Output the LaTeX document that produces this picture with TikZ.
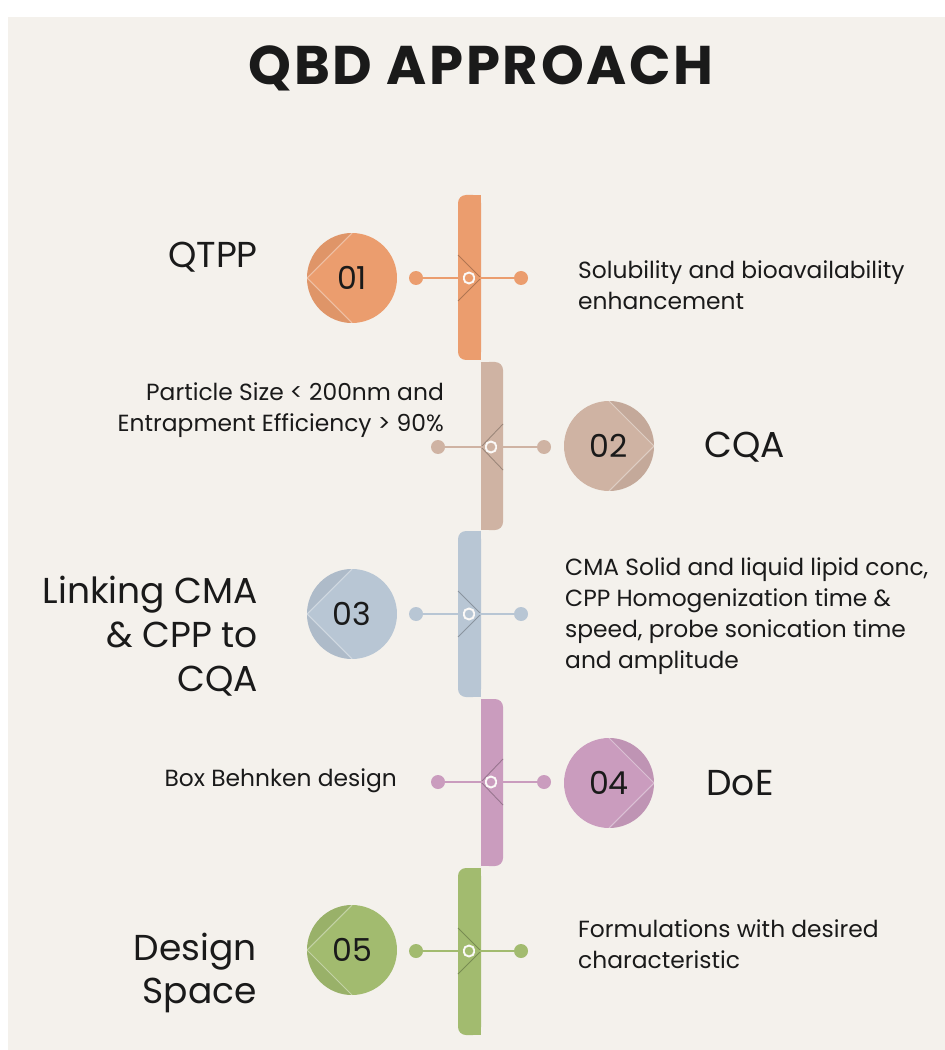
\documentclass[tikz,border=0pt]{standalone}
\usepackage{fontspec}
\setmainfont{Poppins}
\usetikzlibrary{positioning}

\definecolor{paper}{HTML}{F4F1EC}
\definecolor{inkc}{HTML}{1A1A1A}
\definecolor{qorange}{HTML}{EB9D6E}
\definecolor{qtan}{HTML}{CFB3A3}
\definecolor{qblue}{HTML}{B8C6D4}
\definecolor{qpink}{HTML}{CA9CBE}
\definecolor{qgreen}{HTML}{A2BB6F}

\tikzset{
  numL/.style={circle, fill=#1, minimum size=1.8cm, inner sep=0pt, text=inkc,
    font=\fontsize{18}{20}\selectfont,
    path picture={
      \fill[#1!80!black, opacity=.25] (path picture bounding box.north) -- (path picture bounding box.west)
        -- (path picture bounding box.south) -- (path picture bounding box.south west)
        -- (path picture bounding box.north west) -- cycle;
      \draw[white, opacity=.4, line width=0.6pt] (path picture bounding box.north)
        -- (path picture bounding box.west) -- (path picture bounding box.south);
    }},
  numR/.style={circle, fill=#1, minimum size=1.8cm, inner sep=0pt, text=inkc,
    font=\fontsize{18}{20}\selectfont,
    path picture={
      \fill[#1!80!black, opacity=.25] (path picture bounding box.north) -- (path picture bounding box.east)
        -- (path picture bounding box.south) -- (path picture bounding box.south east)
        -- (path picture bounding box.north east) -- cycle;
      \draw[white, opacity=.4, line width=0.6pt] (path picture bounding box.north)
        -- (path picture bounding box.east) -- (path picture bounding box.south);
    }},
  dot/.style={circle, fill=#1, minimum size=0.28cm, inner sep=0pt},
  ring/.style={circle, fill=#1, draw=paper!40!white, line width=1.1pt, minimum size=0.22cm, inner sep=0pt},
  link/.style={draw=#1, line width=0.9pt},
  chev/.style={draw=#1!75!black, line width=0.5pt},
  big/.style={text=inkc, font=\fontsize{20.5}{25}\selectfont, align=right},
  note/.style={text=inkc, font=\fontsize{13.3}{17.6}\selectfont},
}

\begin{document}
\begin{tikzpicture}[x=0.02cm, y=-0.02cm]
% page
\fill[white] (0,0) rectangle (945,1050);
\fill[paper] (8,17) rectangle (945,1050);
\node[text=inkc, font=\fontsize{31}{36}\selectfont\bfseries\addfontfeatures{LetterSpace=5}] (title) at (481,68) {QBD APPROACH};

% stepped spine
\fill[qorange, rounded corners=0.16cm] (458,195) rectangle (481,360);
\fill[qorange] (470,195) rectangle (481,360);
\fill[qtan, rounded corners=0.16cm] (481,362) rectangle (503,530);
\fill[qtan] (481,362) rectangle (492,530);
\fill[qblue, rounded corners=0.16cm] (458,531) rectangle (481,697);
\fill[qblue] (470,531) rectangle (481,697);
\fill[qpink, rounded corners=0.16cm] (481,699) rectangle (503,866);
\fill[qpink] (481,699) rectangle (492,866);
\fill[qgreen, rounded corners=0.16cm] (458,868) rectangle (481,1035);
\fill[qgreen] (470,868) rectangle (481,1035);

\draw[chev=qorange] (458,255) -- (481,278) -- (458,301);
\draw[chev=qtan] (503,424) -- (481,447) -- (503,470);
\draw[chev=qblue] (458,591) -- (481,614) -- (458,637);
\draw[chev=qpink] (503,759) -- (481,782) -- (503,805);
\draw[chev=qgreen] (458,928) -- (481,951) -- (458,974);

% step 01
\node[numL=qorange] (n1) at (352,278) {01};
\node[dot=qorange] (d1a) at (416,278) {};
\node[ring=qorange] (r1) at (469,278) {};
\node[dot=qorange] (d1b) at (521,278) {};
\draw[link=qorange] (d1a) -- (r1);
\draw[link=qorange] (r1) -- (d1b);
\node[big] (t1) at (213,257) {QTPP};
\node[note, anchor=west, align=left] (s1) at (572,285) {Solubility and bioavailability\\enhancement};

% step 02
\node[numR=qtan] (n2) at (609,446) {02};
\node[dot=qtan] (d2a) at (438,447) {};
\node[ring=qtan] (r2) at (491,447) {};
\node[dot=qtan] (d2b) at (544,447) {};
\draw[link=qtan] (d2a) -- (r2);
\draw[link=qtan] (r2) -- (d2b);
\node[big] (t2) at (745,447) {CQA};
\node[note, anchor=east, align=right] (s2) at (450,410) {Particle Size < 200nm and\\Entrapment Efficiency > 90\%};

% step 03
\node[numL=qblue] (n3) at (352,614) {03};
\node[dot=qblue] (d3a) at (416,614) {};
\node[ring=qblue] (r3) at (469,614) {};
\node[dot=qblue] (d3b) at (521,614) {};
\draw[link=qblue] (d3a) -- (r3);
\draw[link=qblue] (r3) -- (d3b);
\node[big, anchor=east] (t3) at (264,636) {Linking CMA\\\& CPP to\\CQA};
\node[note, anchor=west, align=left] (s3) at (559,616) {CMA Solid and liquid lipid conc,\\CPP Homogenization time \&\\speed, probe sonication time\\and amplitude};

% step 04
\node[numR=qpink] (n4) at (609,783) {04};
\node[dot=qpink] (d4a) at (438,782) {};
\node[ring=qpink] (r4) at (491,782) {};
\node[dot=qpink] (d4b) at (544,782) {};
\draw[link=qpink] (d4a) -- (r4);
\draw[link=qpink] (r4) -- (d4b);
\node[big] (t4) at (740,783) {DoE};
\node[note, anchor=east] (s4) at (403,781) {Box Behnken design};

% step 05
\node[numL=qgreen] (n5) at (352,950) {05};
\node[dot=qgreen] (d5a) at (416,951) {};
\node[ring=qgreen] (r5) at (469,951) {};
\node[dot=qgreen] (d5b) at (521,951) {};
\draw[link=qgreen] (d5a) -- (r5);
\draw[link=qgreen] (r5) -- (d5b);
\node[big, anchor=east] (t5) at (263,973) {Design\\Space};
\node[note, anchor=west, align=left] (s5) at (572,944) {Formulations with desired\\characteristic};
\end{tikzpicture}
\end{document}
